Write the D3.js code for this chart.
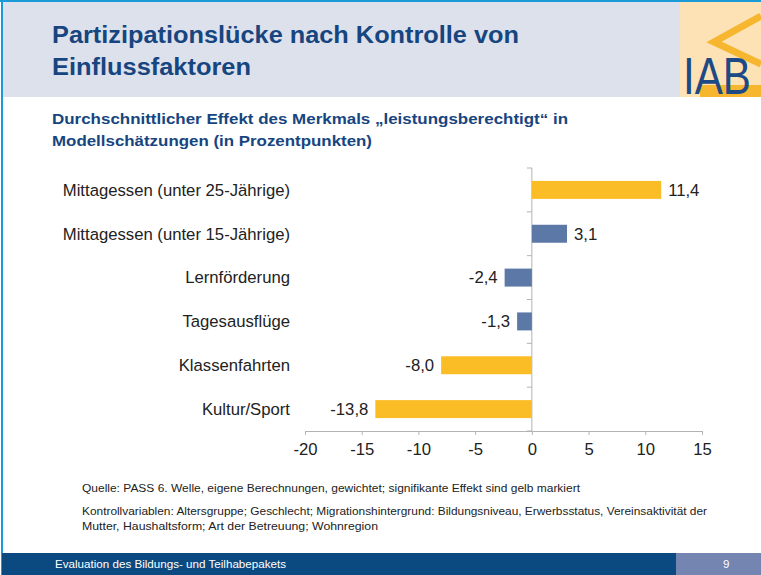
<!DOCTYPE html>
<html>
<head>
<meta charset="utf-8">
<script src="https://cdn.jsdelivr.net/npm/d3@7"></script>
<style>
  html, body { margin: 0; padding: 0; background: #fff; }
  svg { display: block; font-family: "Liberation Sans", Arial, sans-serif; }
</style>
</head>
<body>
<svg id="chart" width="761" height="575"></svg>
<script>
const categories = [
  "Mittagessen (unter 25-Jährige)",
  "Mittagessen (unter 15-Jährige)",
  "Lernförderung",
  "Tagesausflüge",
  "Klassenfahrten",
  "Kultur/Sport"
];
const values = [11.4, 3.1, -2.4, -1.3, -8.0, -13.8];
const significant = [true, false, false, false, true, true];
const tickValues = [-20, -15, -10, -5, 0, 5, 10, 15];

const svg = d3.select("#chart");
const W = 761, H = 575;
const FS = 16.7;

// header
svg.append("rect").attr("x", 0).attr("y", 0).attr("width", W).attr("height", H).attr("fill", "#fff");
svg.append("rect").attr("x", 2).attr("y", 2).attr("width", W).attr("height", 95).attr("fill", "#dde1ec");
svg.append("rect").attr("x", 0).attr("y", 0).attr("width", W).attr("height", 2).attr("fill", "#1a9ad6");
svg.append("rect").attr("x", 1).attr("y", 0).attr("width", 2).attr("height", H).attr("fill", "#1a9ad6");

// logo
const logo = svg.append("g");
logo.append("rect").attr("x", 680).attr("y", 2).attr("width", 81).attr("height", 95).attr("fill", "#fde2b6");
logo.append("path").attr("d", "M761,16 L714,42 L761,64").attr("fill", "none").attr("stroke", "#f6b630").attr("stroke-width", 7);
logo.append("rect").attr("x", 700).attr("y", 85).attr("width", 61).attr("height", 12).attr("fill", "#f6b630");
logo.append("text").attr("x", 683).attr("y", 94).attr("font-size", 52).attr("fill", "#1d4a85")
  .attr("textLength", 68).attr("lengthAdjust", "spacingAndGlyphs").text("IAB");

// titles
function fitText(txt, x0, y0, size, len, weight, color) {
  return svg.append("text").attr("x", x0).attr("y", y0).attr("font-size", size)
    .attr("font-weight", weight).attr("fill", color)
    .attr("textLength", len).attr("lengthAdjust", "spacingAndGlyphs").text(txt);
}
const titleColor = "#17457f";
fitText("Partizipationslücke nach Kontrolle von", 52, 43, 23, 467, "bold", titleColor);
fitText("Einflussfaktoren", 52, 75, 23, 199, "bold", titleColor);
fitText("Durchschnittlicher Effekt des Merkmals \u201Eleistungsberechtigt\u201C in", 52, 124, 15.5, 516, "bold", titleColor);
fitText("Modellschätzungen (in Prozentpunkten)", 52, 146, 15.5, 320, "bold", titleColor);

// chart
const x = d3.scaleLinear().domain([-20, 15]).range([305, 702]);
const y = d3.scaleBand().domain(categories).range([168, 431]).paddingInner(0.59).paddingOuter(0.295);
const yb = d3.scaleBand().domain(categories).range([168, 431]);

const axisColor = "#b3b3b3";
const xAxis = svg.append("g").attr("transform", "translate(0,431)")
  .call(d3.axisBottom(x).tickValues(tickValues).tickSize(4).tickPadding(8).tickFormat(d => String(d)));
xAxis.select(".domain").attr("stroke", axisColor);
xAxis.selectAll(".tick line").attr("stroke", axisColor);
xAxis.selectAll(".tick text").attr("font-size", FS).attr("fill", "#222").attr("font-family", "Liberation Sans, Arial, sans-serif");

svg.append("line").attr("x1", x(0)).attr("x2", x(0)).attr("y1", 168).attr("y2", 431).attr("stroke", axisColor);
const bounds = categories.map(c => yb(c)).concat([431]);
svg.selectAll(".ytick").data(bounds).enter().append("line")
  .attr("x1", x(0) - 5).attr("x2", x(0)).attr("y1", d => d).attr("y2", d => d).attr("stroke", axisColor);

svg.selectAll(".bar").data(values).enter().append("rect")
  .attr("x", d => x(Math.min(0, d)))
  .attr("width", d => Math.abs(x(d) - x(0)))
  .attr("y", (d, i) => y(categories[i]))
  .attr("height", y.bandwidth())
  .attr("fill", (d, i) => significant[i] ? "#fbbd26" : "#5b78a7");

const fmt = v => v.toFixed(1).replace(".", ",");
svg.selectAll(".val").data(values).enter().append("text")
  .attr("x", d => d >= 0 ? x(d) + 7 : x(d) - 7)
  .attr("y", (d, i) => y(categories[i]) + y.bandwidth() / 2)
  .attr("dy", "0.35em")
  .attr("text-anchor", d => d >= 0 ? "start" : "end")
  .attr("font-size", FS).attr("fill", "#222")
  .text(fmt);

svg.selectAll(".cat").data(categories).enter().append("text")
  .attr("x", 290)
  .attr("y", d => y(d) + y.bandwidth() / 2)
  .attr("dy", "0.35em")
  .attr("text-anchor", "end")
  .attr("font-size", FS).attr("fill", "#222")
  .text(d => d);

// notes
const notes = [
  ["Quelle: PASS 6. Welle, eigene Berechnungen, gewichtet; signifikante Effekt sind gelb markiert", 492, 498],
  ["Kontrollvariablen: Altersgruppe; Geschlecht; Migrationshintergrund: Bildungsniveau, Erwerbsstatus, Vereinsaktivität der", 515, 625],
  ["Mutter, Haushaltsform; Art der Betreuung; Wohnregion", 530, 296]
];
notes.forEach(n => fitText(n[0], 82, n[1], 11, n[2], "normal", "#222"));

// footer
svg.append("rect").attr("x", 2).attr("y", 553).attr("width", W).attr("height", 22).attr("fill", "#0b4a80");
svg.append("rect").attr("x", 676).attr("y", 553).attr("width", 85).attr("height", 22).attr("fill", "#7385b0");
fitText("Evaluation des Bildungs- und Teilhabepakets", 55, 568, 11.5, 231, "normal", "#fff");
svg.append("text").attr("x", 723).attr("y", 568).attr("font-size", 11.5).attr("fill", "#fff").text("9");
</script>
</body>
</html>
